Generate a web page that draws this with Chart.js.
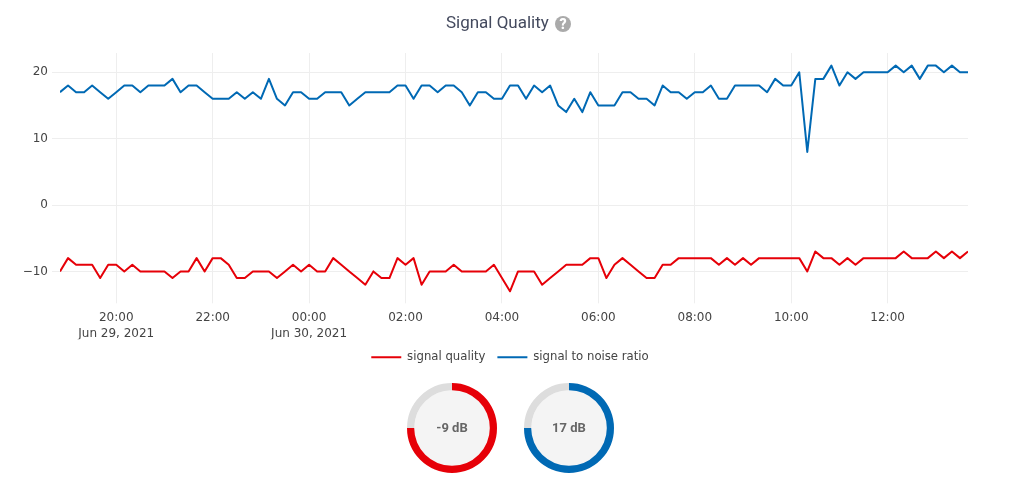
<!DOCTYPE html>
<html>
<head>
<meta charset="utf-8">
<title>Signal Quality</title>
<script src="https://cdn.jsdelivr.net/npm/chart.js@4/dist/chart.umd.js"></script>
<style>
  body { margin: 0; background: #fff; overflow: hidden; }
  #page { position: relative; width: 1024px; height: 488px; }
  #title {
    position: absolute; left: 0; top: 12px; width: 1017px; text-align: center;
    font: 17px Roboto, sans-serif; color: #444a5e; line-height: 20px;
  }
  #title .help {
    display: inline-block; width: 16px; height: 16px; border-radius: 50%;
    margin-left: 2px; background: #aaa; color: #fff; text-align: center;
    font: 900 14px/16px Roboto, sans-serif; vertical-align: -1px;
  }
  #mainChart { position: absolute; left: 0; top: 0; }
  #gauge1, #gauge2 { position: absolute; top: 378px; }
  #gauge1 { left: 402px; }
  #gauge2 { left: 519px; }
</style>
</head>
<body>
<div id="page">
  <canvas id="mainChart" width="1024" height="373"></canvas>
  <div id="title">Signal Quality <span class="help">?</span></div>
  <canvas id="gauge1" width="100" height="100"></canvas>
  <canvas id="gauge2" width="100" height="100"></canvas>
</div>
<script>
// minutes since midnight Jun 29, one reading every 10 minutes from 18:50
const START_MINUTE = 1130;
const STEP_MINUTES = 10;

const signalQuality = [
  -10, -8, -9, -9, -9, -11, -9, -9, -10, -9, -10, -10, -10, -10, -11, -10, -10, -8, -10, -8,
  -8, -9, -11, -11, -10, -10, -10, -11, -10, -9, -10, -9, -10, -10, -8, -9, -10, -11, -12, -10,
  -11, -11, -8, -9, -8, -12, -10, -10, -10, -9, -10, -10, -10, -10, -9, -11, -13, -10, -10, -10,
  -12, -11, -10, -9, -9, -9, -8, -8, -11, -9, -8, -9, -10, -11, -11, -9, -9, -8, -8, -8,
  -8, -8, -9, -8, -9, -8, -9, -8, -8, -8, -8, -8, -8, -10, -7, -8, -8, -9, -8, -9,
  -8, -8, -8, -8, -8, -7, -8, -8, -8, -7, -8, -7, -8, -7,
];
const signalToNoise = [
  17, 18, 17, 17, 18, 17, 16, 17, 18, 18, 17, 18, 18, 18, 19, 17, 18, 18, 17, 16,
  16, 16, 17, 16, 17, 16, 19, 16, 15, 17, 17, 16, 16, 17, 17, 17, 15, 16, 17, 17,
  17, 17, 18, 18, 16, 18, 18, 17, 18, 18, 17, 15, 17, 17, 16, 16, 18, 18, 16, 18,
  17, 18, 15, 14, 16, 14, 17, 15, 15, 15, 17, 17, 16, 16, 15, 18, 17, 17, 16, 17,
  17, 18, 16, 16, 18, 18, 18, 18, 17, 19, 18, 18, 20, 8, 19, 19, 21, 18, 20, 19,
  20, 20, 20, 20, 21, 20, 21, 19, 21, 21, 20, 21, 20, 20,
];
const seriesNames = ["signal quality", "signal to noise ratio"];
const seriesColors = ["#e60008", "#0069b4"];
const yTicks = [20, 10, 0, -10];
const xTickHours = ["20:00", "22:00", "00:00", "02:00", "04:00", "06:00", "08:00", "10:00", "12:00"];
const xTickMinutes = [1200, 1320, 1440, 1560, 1680, 1800, 1920, 2040, 2160];
const xTickDates = { 1200: "Jun 29, 2021", 1440: "Jun 30, 2021" };
const gaugeLabels = ["-9 dB", "17 dB"];
const gaugeFill = [75, 75];

const minutes = signalQuality.map((v, i) => START_MINUTE + i * STEP_MINUTES);
const toPoints = (values) => values.map((v, i) => ({ x: minutes[i], y: v }));

const gridColor = "#eeeeee";
const textColor = "#444444";
const tickFont = { family: "'DejaVu Sans'", size: 12, lineHeight: 1.35 };

// the y scale is narrow so the legend centres on the plot; its labels need room to the left
const widenYLabels = {
  id: "widenYLabels",
  afterLayout(chart) {
    chart.scales.y.left = 0;
  },
};

new Chart(document.getElementById("mainChart"), {
  type: "line",
  data: {
    datasets: [signalQuality, signalToNoise].map((values, i) => ({
      label: seriesNames[i],
      data: toPoints(values),
      borderColor: seriesColors[i],
      backgroundColor: seriesColors[i],
      borderWidth: 2,
      borderJoinStyle: "round",
      pointRadius: 0,
      tension: 0,
    })),
  },
  options: {
    responsive: false,
    animation: false,
    layout: { padding: { top: 53, right: 56, left: 52, bottom: 0 } },
    scales: {
      x: {
        type: "linear",
        min: START_MINUTE,
        max: minutes[minutes.length - 1],
        afterBuildTicks: (scale) => {
          scale.ticks = xTickMinutes.map((value) => ({ value }));
        },
        afterFit: (scale) => {
          scale.height = 44;
        },
        grid: { color: gridColor, tickColor: gridColor, tickLength: 8 },
        border: { display: false },
        ticks: {
          color: textColor,
          font: tickFont,
          maxRotation: 0,
          autoSkip: false,
          padding: 6,
          callback: (value) => {
            const hour = xTickHours[xTickMinutes.indexOf(value)];
            return xTickDates[value] ? [hour, xTickDates[value]] : hour;
          },
        },
      },
      y: {
        min: -13.6,
        max: 22.9,
        afterBuildTicks: (scale) => {
          scale.ticks = yTicks.map((value) => ({ value }));
        },
        afterFit: (scale) => {
          scale.width = 8;
        },
        grid: { color: gridColor, tickColor: gridColor, tickLength: 8 },
        border: { display: false },
        ticks: {
          color: textColor,
          font: tickFont,
          padding: 4,
          callback: (value) => String(value).replace("-", "\u2212"),
        },
      },
    },
    plugins: {
      tooltip: { enabled: false },
      legend: {
        position: "bottom",
        labels: {
          usePointStyle: true,
          pointStyle: "line",
          pointStyleWidth: 30,
          boxHeight: 12,
          padding: 12,
          color: textColor,
          font: { family: "'DejaVu Sans'", size: 11.7 },
        },
      },
    },
  },
  plugins: [widenYLabels],
});

// draws the pale middle of the ring and its value
const gaugeCenter = {
  id: "gaugeCenter",
  beforeDatasetsDraw(chart) {
    const arc = chart.getDatasetMeta(0).data[0];
    const ctx = chart.ctx;
    ctx.save();
    ctx.fillStyle = "#f4f4f4";
    ctx.beginPath();
    ctx.arc(arc.x, arc.y, arc.innerRadius, 0, Math.PI * 2);
    ctx.fill();
    ctx.restore();
  },
  afterDraw(chart, args, opts) {
    const arc = chart.getDatasetMeta(0).data[0];
    const ctx = chart.ctx;
    ctx.save();
    ctx.fillStyle = "#666666";
    ctx.font = "bold 13px Roboto";
    ctx.textAlign = "center";
    ctx.textBaseline = "middle";
    ctx.fillText(opts.label, arc.x, arc.y + 1);
    ctx.restore();
  },
};

function createGauge(id, index) {
  return new Chart(document.getElementById(id), {
    type: "doughnut",
    data: {
      datasets: [
        {
          data: [gaugeFill[index], 100 - gaugeFill[index]],
          backgroundColor: [seriesColors[index], "#dddddd"],
          borderWidth: 0,
        },
      ],
    },
    options: {
      responsive: false,
      animation: false,
      radius: 45,
      cutout: "84%",
      plugins: {
        legend: { display: false },
        tooltip: { enabled: false },
        gaugeCenter: { label: gaugeLabels[index] },
      },
    },
    plugins: [gaugeCenter],
  });
}

createGauge("gauge1", 0);
createGauge("gauge2", 1);
</script>
</body>
</html>
